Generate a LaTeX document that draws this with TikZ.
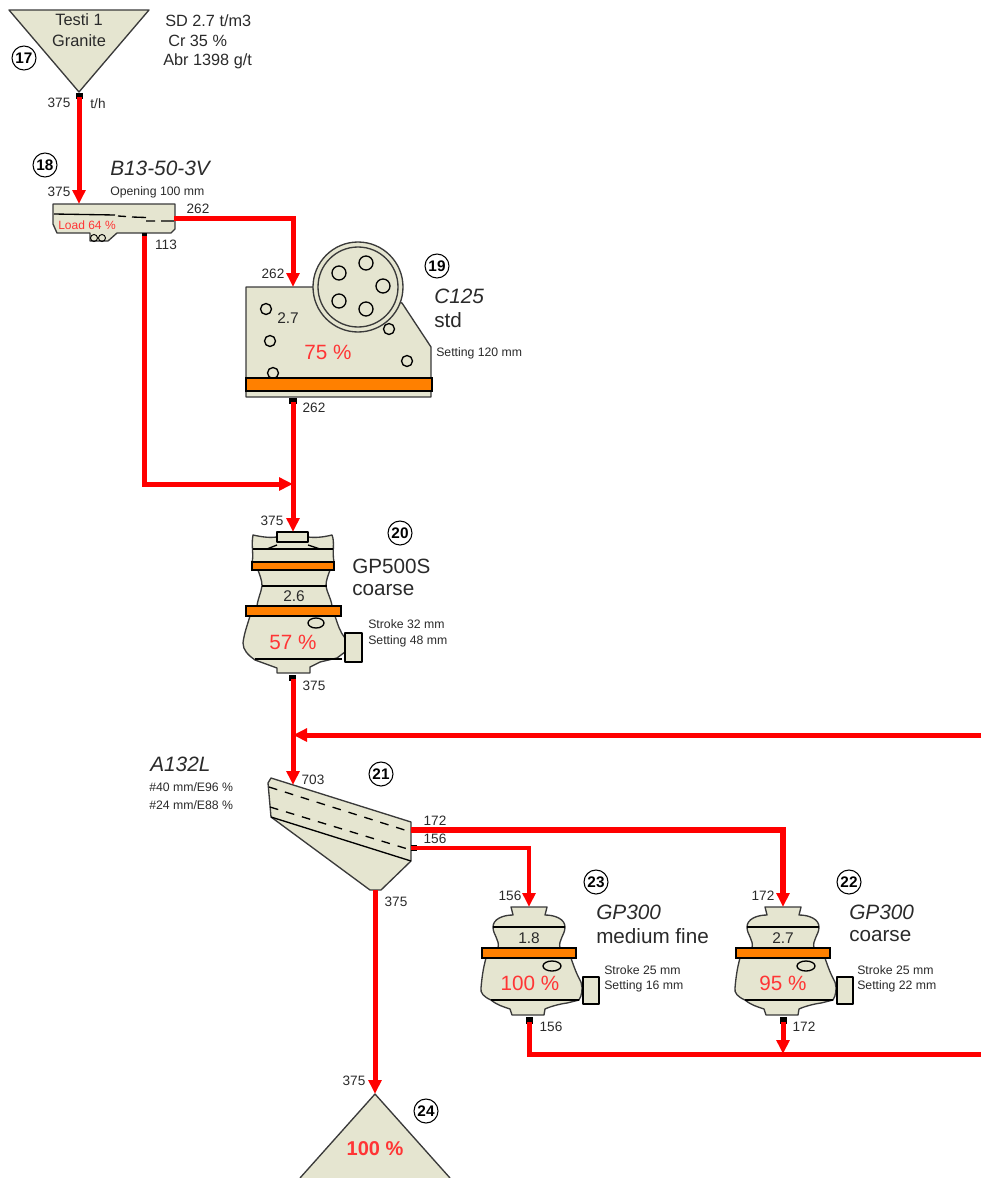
\documentclass[tikz,border=0pt]{standalone}
\usepackage{fontspec}
\setmainfont{Liberation Sans}
\usetikzlibrary{arrows.meta,shapes.geometric}
\definecolor{body}{HTML}{E5E5D0}
\definecolor{band}{HTML}{FF8000}
\definecolor{flow}{HTML}{FF0000}
\definecolor{pct}{HTML}{FF3535}
\definecolor{ink}{HTML}{2A2A2A}
\definecolor{edge}{HTML}{3A3A3A}
\newcommand{\fs}[1]{\fontsize{#1}{#1}\selectfont}
\tikzset{
  x=0.75pt,y=-0.75pt,
  lab/.style={inner sep=0pt,text=ink,font=\fs{10.2}},
  note/.style={inner sep=0pt,text=ink,anchor=west,font=\fs{9.2}},
  stream/.style={inner sep=0pt,text=ink,anchor=west,font=\fs{12.2}},
  val/.style={inner sep=0pt,text=ink,font=\fs{11.6}},
  feedname/.style={inner sep=0pt,text=ink,font=\fs{12.3}},
  model/.style={inner sep=0pt,text=ink,anchor=west,font=\fs{15.6}\itshape},
  variant/.style={inner sep=0pt,text=ink,anchor=west,font=\fs{15.5}},
  load/.style={inner sep=0pt,text=pct,font=\fs{15.5}},
  num/.style={circle,draw=black,fill=white,line width=0.8pt,minimum size=18pt,inner sep=0pt,text=black,font=\fs{11.5}\bfseries},
  machine/.style={draw=edge,fill=body,line width=1pt,line join=round},
  inner/.style={draw=black,line width=1pt},
  bandbar/.style={draw=black,fill=band,line width=1pt},
  outlet/.style={fill=black,draw=none},
  pipe/.style={draw=flow,line width=3.75pt,line join=miter},
  thinpipe/.style={draw=flow,line width=3pt,line join=miter},
  feed/.style={-{Triangle[length=10.5pt,width=9.5pt]}},
}
\newcommand{\smallcone}[3]{%
\begin{scope}[shift={(#1,907)}]
  \draw[machine] (-18,0) -- (18,0) -- (16,8) .. controls (26,8) and (36,12) .. (36,20)
    .. controls (36,28) and (29,33) .. (31,41) -- (-31,41)
    .. controls (-29,33) and (-36,28) .. (-36,20) .. controls (-36,12) and (-26,8) .. (-16,8) -- cycle;
  \draw[machine] (-43,51) -- (42,51) .. controls (45,60) and (48,68) .. (52,75)
    .. controls (54,82) and (53,88) .. (50,93) -- (38,96) .. controls (30,97) and (20,100) .. (16,102)
    -- (15,108) -- (-17,108) -- (-19,102) .. controls (-25,100) and (-32,98) .. (-38,93)
    .. controls (-45,90) and (-49,86) .. (-48,81) .. controls (-47,70) and (-46,62) .. (-43,51) -- cycle;
  \draw[inner] (-36,20) -- (36,20);
  \draw[inner] (-38,93) -- (50,93);
  \draw[bandbar] (-47,41) rectangle (47,51);
  \draw[machine,draw=black] (23,59) ellipse (9 and 5);
  \draw[machine,draw=black] (54,70) rectangle (70,97);
  \fill[outlet] (-3.5,110) rectangle (3.5,117);
  \coordinate (#2top) at (0,0);
  \coordinate (#2out) at (0,115);
  #3
\end{scope}}
\begin{document}
\begin{tikzpicture}
\useasboundingbox (0,0) rectangle (981,1178);
% 17 feed hopper
\draw[machine] (9,10) -- (149,10) -- (79,92) -- cycle;
\fill[outlet] (76,93) rectangle (83,99);
\coordinate (hopperout) at (79,97);
% 18 grizzly feeder
\draw[machine] (53,204) -- (175,204) -- (175,229) -- (171,233) -- (117,233) -- (108,241) -- (90,241) -- (90,233) -- (57,233) -- (53,224) -- cycle;
\draw[inner] (54,214) -- (115,215);
\draw[inner] (118,216) -- (126,216.5) (132,217) -- (146,217.5) (146,221) -- (155,221) (161,221) -- (174,221);
\draw[draw=black,line width=0.7pt] (94,238) circle (3.5) (102,238) circle (3.5);
\fill[outlet] (141.5,233) rectangle (147,238);
\coordinate (feederin) at (79,204);
\coordinate (feederover) at (174,218);
\coordinate (feederunder) at (144,236);
% 19 jaw crusher
\draw[machine] (246,287) -- (320,287) -- (402,303) -- (431,347) -- (431,397) -- (246,397) -- cycle;
\draw[machine] (358,287) circle (45);
\draw[draw=edge,line width=1pt] (358,287) circle (40);
\foreach \px/\py in {339/273,366/263,383/286,339/301,366/309}
  \draw[inner] (\px,\py) circle (7);
\foreach \px/\py in {266/309,270/341,273/373,389/329,407/361}
  \draw[inner] (\px,\py) circle (5.5);
\draw[bandbar] (246,378) rectangle (432,391);
\fill[outlet] (289,398) rectangle (297,404);
\coordinate (jawin) at (293,287);
\coordinate (jawout) at (293,402);
% 20 GP500S
\draw[machine] (253,535) .. controls (262,537) and (270,538) .. (277,537) -- (308,537) .. controls (316,538) and (324,537) .. (332,535)
  .. controls (335,542) and (332,552) .. (334,562) -- (252,562) .. controls (254,556) and (251,545) .. (253,535) -- cycle;
\draw[machine] (258,570) .. controls (260,576) and (262,580) .. (262,586) .. controls (261,593) and (258,598) .. (257,606) -- (332,606)
  .. controls (331,598) and (327,593) .. (326,586) .. controls (326,580) and (328,576) .. (330,570) -- cycle;
\draw[machine] (250,616) -- (335,616) .. controls (338,625) and (340,632) .. (345,638) -- (345,652) -- (337,658) -- (320,662) -- (310,667) -- (310,673) -- (277,673) -- (277,668) -- (255,660)
  .. controls (248,655) and (243,650) .. (243,643) .. controls (244,634) and (247,626) .. (250,616) -- cycle;
\draw[inner] (267,549) -- (277,545) (308,545) -- (320,549);
\draw[inner] (253,549) -- (333,549);
\draw[inner] (262,586) -- (327,586);
\draw[inner] (255,659) -- (342,659);
\draw[bandbar] (252,562) rectangle (334,570);
\draw[bandbar] (246,606) rectangle (341,616);
\draw[machine,draw=black] (277,532) rectangle (308,542);
\draw[machine,draw=black] (316,623) ellipse (8 and 5);
\draw[machine,draw=black] (345,633) rectangle (362,662);
\fill[outlet] (289,675) rectangle (296,681);
\coordinate (gp500top) at (293,532);
\coordinate (gp500out) at (293,679);
\coordinate (junction) at (293,484);
% 21 screen
\draw[machine] (271,778) -- (411,822) -- (411,861) -- (381,890) -- (370,890) -- (271,817) -- (268,783) -- cycle;
\draw[inner,dash pattern=on 6.5pt off 6pt] (269,787) -- (411,832);
\draw[inner,dash pattern=on 6.5pt off 6pt] (270,807) -- (411,850);
\draw[inner] (271,817) -- (411,861);
\fill[outlet] (411,827) rectangle (415,833);
\fill[outlet] (411,845) rectangle (417,851);
\coordinate (screenin) at (293,785);
\coordinate (screenover) at (411,830);
\coordinate (screenmid) at (411,848);
\coordinate (screenunder) at (375,890);
% 22, 23 cone crushers
\smallcone{529}{gpf}{}
\smallcone{783}{gpc}{}
% 24 stockpile
\fill[body] (375,1094) -- (300,1178) -- (450,1178) -- cycle;
\draw[edge,line width=1pt,line join=round] (300,1178) -- (375,1094) -- (450,1178);
\coordinate (pile) at (375,1094);
% free ends
\coordinate (recycle) at (981,735);
\coordinate (return) at (981,1054);
\coordinate (returnjoin) at (783,1054);
\coordinate (recyclejoin) at (293,735);
% connectors
\draw[pipe,feed] (hopperout) -- (feederin);
\draw[pipe,feed] (feederover) -| (jawin);
\draw[pipe,feed] (feederunder) |- (junction);
\draw[pipe,feed] (jawout) -- (gp500top);
\draw[pipe,feed] (gp500out) -- (screenin);
\draw[pipe,feed] (recycle) -- (recyclejoin);
\draw[pipe,line width=4.2pt,feed] (screenover) -| (gpctop);
\draw[thinpipe,feed] (screenmid) -| (gpftop);
\draw[pipe,feed] (screenunder) -- (pile);
\draw[pipe] (gpfout) |- (return);
\draw[pipe,feed] (gpcout) -- (returnjoin);
% numbers
\node[num] (n17) at (24,58) {17};
\node[num] (n18) at (45,165) {18};
\node[num] (n19) at (437,266) {19};
\node[num] (n20) at (400,533) {20};
\node[num] (n21) at (381,774) {21};
\node[num] (n22) at (849,882) {22};
\node[num] (n23) at (596,882) {23};
\node[num] (n24) at (426,1111) {24};
% texts 17
\node[feedname] (t1) at (79,20) {Testi 1};
\node[feedname] (t2) at (79,41) {Granite};
\node[stream] (t3) at (165,21) {SD 2.7 t/m3};
\node[stream] (t4) at (168,41) {Cr 35 \%};
\node[stream] (t5) at (163,61) {Abr 1398 g/t};
\node[lab] (t6) at (59,103) {375};
\node[lab] (t7) at (98,104) {t/h};
% 18
\node[lab] (t8) at (59,192) {375};
\node[model] (t9) at (110,168) {B13-50-3V};
\node[note] (t10) at (110,192) {Opening 100 mm};
\node[lab] (t11) at (198,209) {262};
\node[lab] (t12) at (166,245) {113};
\node[inner sep=0pt,text=pct,font=\fs{9}] (t13) at (87,225) {Load 64 \%};
% 19
\node[lab] (t14) at (273,274) {262};
\node[val] (t15) at (288,318) {2.7};
\node[load] (t16) at (328,352) {75 \%};
\node[model] (t17) at (434,296) {C125};
\node[variant] (t18) at (434,320) {std};
\node[note] (t19) at (436,353) {Setting 120 mm};
\node[lab] (t20) at (314,408) {262};
% 20
\node[lab] (t21) at (272,521) {375};
\node[variant] (t22) at (352,566) {GP500S};
\node[variant] (t23) at (352,590) {coarse};
\node[val] (t24) at (294,596) {2.6};
\node[load] (t25) at (293,642) {57 \%};
\node[note] (t26) at (368,624) {Stroke 32 mm};
\node[note] (t27) at (368,641) {Setting 48 mm};
\node[lab] (t28) at (314,686) {375};
% 21
\node[model] (t29) at (150,764) {A132L};
\node[note] (t30) at (149,787) {\#40 mm/E96 \%};
\node[note] (t31) at (149,805) {\#24 mm/E88 \%};
\node[lab] (t32) at (313,780) {703};
\node[lab] (t33) at (435,821) {172};
\node[lab] (t34) at (435,839) {156};
\node[lab] (t35) at (396,902) {375};
% 23
\node[lab] (t36) at (510,896) {156};
\node[model] (t37) at (596,912) {GP300};
\node[variant] (t38) at (596,936) {medium fine};
\node[val] (t39) at (529,938) {1.8};
\node[load] (t40) at (530,983) {100 \%};
\node[note] (t41) at (604,970) {Stroke 25 mm};
\node[note] (t42) at (604,986) {Setting 16 mm};
\node[lab] (t43) at (551,1027) {156};
% 22
\node[lab] (t44) at (763,896) {172};
\node[model] (t45) at (849,912) {GP300};
\node[variant] (t46) at (849,936) {coarse};
\node[val] (t47) at (783,938) {2.7};
\node[load] (t48) at (783,983) {95 \%};
\node[note] (t49) at (857,970) {Stroke 25 mm};
\node[note] (t50) at (857,986) {Setting 22 mm};
\node[lab] (t51) at (804,1027) {172};
% 24
\node[lab] (t52) at (354,1081) {375};
\node[inner sep=0pt,text=pct,font=\fs{15}\bfseries] (t53) at (375,1149) {100 \%};
\end{tikzpicture}
\end{document}
